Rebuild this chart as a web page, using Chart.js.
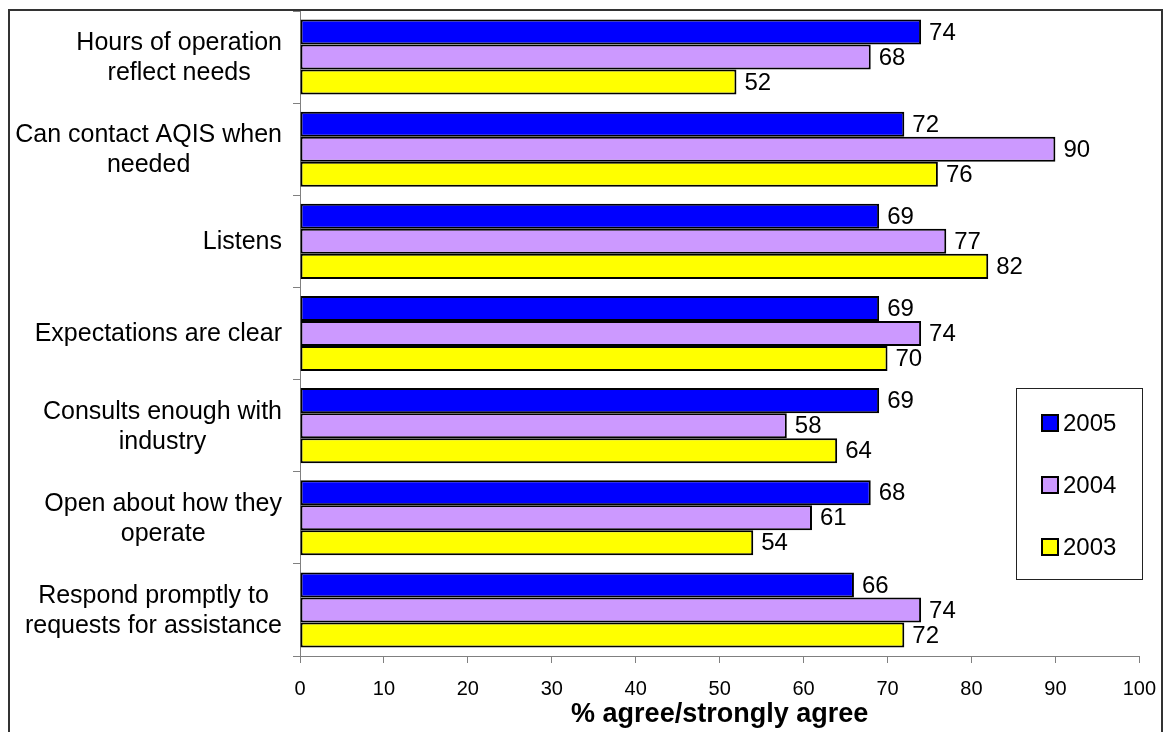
<!DOCTYPE html>
<html>
<head>
    <meta charset="UTF-8">
    <title>AQIS service ratings</title>
    <script src="https://cdn.jsdelivr.net/npm/chart.js@4"></script>
    <style>
        html, body { margin: 0; padding: 0; background: #fff; }
        #wrap { width: 1170px; height: 732px; }
    </style>
</head>
<body>
    <div id="wrap"><canvas id="ratingsChart" width="1170" height="732"></canvas></div>
    <script>
        const FONT = "Arial, 'Liberation Sans', sans-serif";

        const categories = [
            ['Hours of operation', 'reflect needs'],
            ['Can contact AQIS when', 'needed'],
            ['Listens'],
            ['Expectations are clear'],
            ['Consults enough with', 'industry'],
            ['Open about how they', 'operate'],
            ['Respond promptly to', 'requests for assistance']
        ];
        const years = ['2005', '2004', '2003'];
        const values2005 = [74, 72, 69, 69, 69, 68, 66];
        const values2004 = [68, 90, 77, 74, 58, 61, 74];
        const values2003 = [52, 76, 82, 70, 64, 54, 72];
        const colours = ['#0000FF', '#CC99FF', '#FFFF00'];
        const xTicks = [0, 10, 20, 30, 40, 50, 60, 70, 80, 90, 100];
        const axisTitle = '% agree/strongly agree';

        // outer frame behind everything
        const framePlugin = {
            id: 'frame',
            beforeDraw(chart) {
                const ctx = chart.ctx;
                ctx.save();
                ctx.fillStyle = '#fff';
                ctx.fillRect(0, 0, chart.width, chart.height);
                ctx.strokeStyle = '#333';
                ctx.lineWidth = 2;
                ctx.strokeRect(9, 10, 1153, 800);
                ctx.restore();
            }
        };

        // category labels: lines centred inside a block that is right aligned
        const categoryLabels = {
            id: 'categoryLabels',
            afterDraw(chart) {
                const ctx = chart.ctx;
                const y = chart.scales.y;
                const right = 282;
                const lineH = 30;
                ctx.save();
                ctx.font = '25px ' + FONT;
                ctx.fillStyle = '#000';
                ctx.textAlign = 'center';
                ctx.textBaseline = 'middle';
                categories.forEach((lines, i) => {
                    const cy = y.getPixelForValue(i);
                    const w = Math.max(...lines.map(l => ctx.measureText(l).width));
                    const cx = right - w / 2;
                    const top = cy - (lines.length - 1) * lineH / 2;
                    lines.forEach((l, k) => ctx.fillText(l, cx, top + k * lineH + 1));
                });
                ctx.restore();
            }
        };

        // value printed just past the end of each bar
        const valueLabels = {
            id: 'valueLabels',
            afterDatasetsDraw(chart) {
                const ctx = chart.ctx;
                ctx.save();
                ctx.font = '24px ' + FONT;
                ctx.fillStyle = '#000';
                ctx.textAlign = 'left';
                ctx.textBaseline = 'middle';
                chart.data.datasets.forEach((ds, di) => {
                    chart.getDatasetMeta(di).data.forEach((bar, i) => {
                        ctx.fillText(String(ds.data[i]), bar.x + 8, bar.y + 1);
                    });
                });
                ctx.restore();
            }
        };

        // boxed legend sitting inside the plot area
        const boxLegend = {
            id: 'boxLegend',
            afterDraw(chart) {
                const ctx = chart.ctx;
                const bx = 1016, by = 388, bw = 126, bh = 191;
                ctx.save();
                ctx.fillStyle = '#fff';
                ctx.fillRect(bx, by, bw, bh);
                ctx.strokeStyle = '#222';
                ctx.lineWidth = 1;
                ctx.strokeRect(bx + 0.5, by + 0.5, bw, bh);
                ctx.font = '24px ' + FONT;
                ctx.textAlign = 'left';
                ctx.textBaseline = 'middle';
                chart.data.datasets.forEach((ds, i) => {
                    const cy = 423 + i * 62;
                    ctx.fillStyle = ds.backgroundColor;
                    ctx.fillRect(1042, cy - 8, 16, 16);
                    ctx.strokeStyle = '#000';
                    ctx.lineWidth = 2;
                    ctx.strokeRect(1042, cy - 8, 16, 16);
                    ctx.fillStyle = '#000';
                    ctx.fillText(ds.label, 1063, cy + 1);
                });
                ctx.restore();
            }
        };

        const seriesValues = [values2005, values2004, values2003];

        new Chart(document.getElementById('ratingsChart'), {
            type: 'bar',
            data: {
                labels: categories.map(c => c.join(' ')),
                datasets: years.map((yr, i) => ({
                    label: yr,
                    data: seriesValues[i],
                    backgroundColor: colours[i],
                    borderColor: '#000',
                    borderWidth: 2,
                    borderSkipped: false,
                    categoryPercentage: 0.815,
                    barPercentage: 1
                }))
            },
            options: {
                indexAxis: 'y',
                responsive: false,
                animation: false,
                devicePixelRatio: 1,
                layout: { padding: { left: 0, top: 11, right: 27, bottom: 0 } },
                plugins: {
                    legend: { display: false },
                    tooltip: { enabled: false }
                },
                scales: {
                    x: {
                        min: 0,
                        max: 100,
                        afterFit(scale) { scale.height = 76; },
                        afterBuildTicks(scale) { scale.ticks = xTicks.map(v => ({ value: v })); },
                        ticks: {
                            font: { family: FONT, size: 20 },
                            color: '#000',
                            padding: 14,
                            maxRotation: 0
                        },
                        grid: {
                            drawOnChartArea: false,
                            drawTicks: true,
                            tickLength: 7,
                            color: '#808080'
                        },
                        border: { display: true, color: '#808080', width: 1 },
                        title: {
                            display: true,
                            text: axisTitle,
                            color: '#000',
                            font: { family: FONT, size: 27, weight: 'bold' },
                            padding: { top: 0, bottom: 1 }
                        }
                    },
                    y: {
                        afterFit(scale) { scale.width = 300; },
                        ticks: { display: false },
                        grid: {
                            offset: true,
                            drawOnChartArea: false,
                            drawTicks: true,
                            tickLength: 7,
                            color: '#808080'
                        },
                        border: { display: true, color: '#808080', width: 1 }
                    }
                }
            },
            plugins: [framePlugin, categoryLabels, valueLabels, boxLegend]
        });
    </script>
</body>
</html>
